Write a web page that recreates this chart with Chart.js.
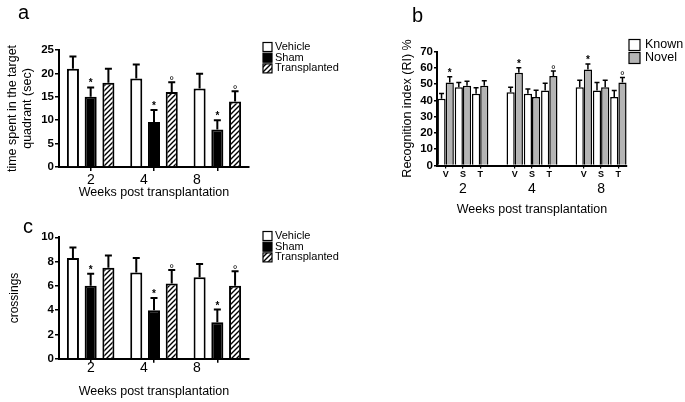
<!DOCTYPE html>
<html><head><meta charset="utf-8">
<script src="https://cdn.jsdelivr.net/npm/chart.js@4/dist/chart.umd.min.js"></script>
<style>
html,body{margin:0;padding:0;background:#fff;}
body{width:685px;height:402px;position:relative;overflow:hidden;font-family:"Liberation Sans",Arial,sans-serif;}
canvas{position:absolute;}
.lbl{position:absolute;font-size:20px;line-height:20px;color:#000;}
</style></head><body>
<canvas id="ca" width="345" height="205" style="left:0;top:0"></canvas>
<canvas id="cc" width="345" height="197" style="left:0;top:205px"></canvas>
<canvas id="cb" width="345" height="220" style="left:340px;top:0"></canvas>
<div class="lbl" style="left:18px;top:2px">a</div>
<div class="lbl" style="left:412px;top:5px">b</div>
<div class="lbl" style="left:23px;top:216px">c</div>
<script>
// ---------- data ----------
const weeks = ['2', '4', '8'];
const groupNames = ['Vehicle', 'Sham', 'Transplanted'];

// panel a: time spent in target quadrant (sec)
const timeVehicle = [21.0, 18.9, 16.8];
const timeVehicleErr = [2.6, 3.0, 3.1];
const timeSham = [15.0, 9.6, 8.0];
const timeShamErr = [2.0, 2.6, 2.0];
const timeTrans = [18.0, 16.0, 14.0];
const timeTransErr = [3.0, 2.1, 2.2];

// panel c: crossings
const crossVehicle = [8.3, 7.1, 6.7];
const crossVehicleErr = [0.85, 1.2, 1.1];
const crossSham = [6.0, 4.0, 3.0];
const crossShamErr = [1.0, 1.0, 1.05];
const crossTrans = [7.5, 6.2, 6.0];
const crossTransErr = [1.0, 1.1, 1.2];

// significance marks (a and c)
const markSham = ['*', '*', '*'];
const markTrans = ['', '°', '°'];

// panel b: recognition index (RI) %
const groupsB = ['V', 'S', 'T', '', 'V', 'S', 'T', '', 'V', 'S', 'T'];
const weekLabelsB = ['', '2', '', '', '', '4', '', '', '', '8', ''];
const riKnown = [41, 48, 44, null, 45, 44, 46, null, 48, 46, 42];
const riKnownErr = [3.2, 3.0, 3.8, null, 3.0, 3.0, 4.5, null, 4.3, 5.0, 4.0];
const riNovel = [51, 49, 49, null, 57, 42, 55, null, 59, 48, 51];
const riNovelErr = [3.5, 2.7, 3.0, null, 3.0, 4.2, 3.0, null, 3.3, 4.3, 3.1];
const markNovel = ['*', '', '', '', '*', '', '°', '', '*', '', '°'];

// ---------- helpers ----------
Chart.defaults.font.family = '"Liberation Sans", Arial, sans-serif';
Chart.defaults.color = '#000';

function hatch() {
  const s = 5;
  const c = document.createElement('canvas'); c.width = s; c.height = s;
  const x = c.getContext('2d');
  x.fillStyle = '#fff'; x.fillRect(0, 0, s, s);
  x.strokeStyle = '#000'; x.lineWidth = 1.4;
  x.beginPath();
  x.moveTo(0, s); x.lineTo(s, 0);
  x.moveTo(-1, 1); x.lineTo(1, -1);
  x.moveTo(s - 1, s + 1); x.lineTo(s + 1, s - 1);
  x.stroke();
  return x.createPattern(c, 'repeat');
}
const HATCH = hatch();

const errorBars = {
  id: 'errorBars',
  afterDatasetsDraw(chart, args, opts) {
    const ctx = chart.ctx, y = chart.scales.y;
    chart.data.datasets.forEach((ds, di) => {
      if (!ds.errors) return;
      const meta = chart.getDatasetMeta(di);
      meta.data.forEach((el, i) => {
        const v = ds.data[i], e = ds.errors[i];
        if (v == null || e == null) return;
        const top = y.getPixelForValue(v + e);
        const cap = opts.cap;
        ctx.save();
        ctx.strokeStyle = '#000'; ctx.lineWidth = opts.width;
        ctx.beginPath();
        ctx.moveTo(el.x, el.y); ctx.lineTo(el.x, top);
        ctx.moveTo(el.x - cap / 2, top); ctx.lineTo(el.x + cap / 2, top);
        ctx.stroke();
        const m = ds.marks && ds.marks[i];
        if (m) {
          ctx.fillStyle = '#000'; ctx.textAlign = 'center'; ctx.textBaseline = 'alphabetic';
          if (m === '*') { ctx.font = 'bold 10px "Liberation Sans", Arial'; ctx.fillText(m, el.x, top - 1); }
          else { ctx.font = '12px "Liberation Sans", Arial'; ctx.fillText(m, el.x, top + 3); }
        }
        ctx.restore();
      });
    });
  }
};

const sideLegend = {
  id: 'sideLegend',
  afterDraw(chart, args, o) {
    const ctx = chart.ctx;
    chart.data.datasets.forEach((ds, i) => {
      const yy = o.y + i * o.step;
      ctx.save();
      ctx.fillStyle = ds.backgroundColor;
      ctx.fillRect(o.x, yy - o.box / 2, o.box, o.box);
      ctx.strokeStyle = '#000'; ctx.lineWidth = 1.2;
      ctx.strokeRect(o.x, yy - o.box / 2, o.box, o.box);
      ctx.fillStyle = '#000'; ctx.font = o.font;
      ctx.textBaseline = 'middle'; ctx.textAlign = 'left';
      ctx.fillText(ds.label, o.x + o.box + o.gap, yy);
      ctx.restore();
    });
  }
};

// week-label axis: linear index axis (label i sits at value i)
const LABEL_MIN = -0.6, LABEL_MAX = 2.98;

function groupChart(id, vals, errs, yMax, yStep, yTitle, yTitleSize, yTitlePad, pad, xlHeight, xlPad, titlePadB, legendY) {
  const mk = (label, data, err, bg, marks) => ({
    label, data, errors: err, marks, backgroundColor: bg, borderColor: '#000', borderWidth: 2,
    xAxisID: 'x', yAxisID: 'y', categoryPercentage: 0.84, barPercentage: 0.68
  });
  return new Chart(document.getElementById(id), {
    type: 'bar',
    data: {
      labels: weeks,
      datasets: [
        mk(groupNames[0], vals[0], errs[0], '#fff', null),
        mk(groupNames[1], vals[1], errs[1], '#000', markSham),
        mk(groupNames[2], vals[2], errs[2], HATCH, markTrans)
      ]
    },
    options: {
      responsive: false, animation: false,
      layout: { padding: pad },
      plugins: {
        legend: { display: false }, tooltip: { enabled: false },
        errorBars: { cap: 7, width: 2 },
        sideLegend: { x: 263, y: legendY, step: 10.7, box: 9, gap: 3, font: '11px "Liberation Sans", Arial' }
      },
      scales: {
        x: {
          type: 'category', offset: true, weight: 0,
          grid: { display: true, drawOnChartArea: false, drawTicks: true, tickLength: 4, offset: false, color: '#000', lineWidth: 1.5 },
          border: { display: true, color: '#000', width: 2 },
          ticks: { display: false },
          afterFit(s) { s.height = 0; }
        },
        xl: {
          type: 'linear', position: 'bottom', weight: 1, min: LABEL_MIN, max: LABEL_MAX, bounds: 'data', offset: false,
          grid: { display: false, drawTicks: false, offset: false }, border: { display: false },
          afterBuildTicks(s) { s.ticks = weeks.map((w, i) => ({ value: i })); s.min = LABEL_MIN; s.max = LABEL_MAX; },
          ticks: { callback: (v) => weeks[v], font: { size: 14 }, color: '#000', padding: xlPad, maxRotation: 0, autoSkip: false },
          title: { display: true, text: 'Weeks post transplantation', font: { size: 12.5 }, color: '#000', padding: { top: 0, bottom: titlePadB } },
          afterFit(s) { s.height = xlHeight; }
        },
        y: {
          min: 0, max: yMax,
          ticks: { stepSize: yStep, font: { size: 11.5, weight: 'bold' }, color: '#000', padding: 1, autoSkip: false },
          grid: { drawOnChartArea: false, tickLength: 4, color: '#000', lineWidth: 1.5 },
          border: { color: '#000', width: 2 },
          title: { display: true, text: yTitle, font: { size: yTitleSize }, color: '#000', padding: { top: yTitlePad, bottom: 0 } },
          afterFit(s) { s.width = 59; }
        }
      }
    },
    plugins: [errorBars, sideLegend]
  });
}

groupChart('ca', [timeVehicle, timeSham, timeTrans], [timeVehicleErr, timeShamErr, timeTransErr],
  25, 5, ['time spent in the target', 'quadrant (sec)'], 12.5, 5.5,
  { left: 0, top: 50, right: 96, bottom: 0 }, 38, 4.6, 4.5, 47);

groupChart('cc', [crossVehicle, crossSham, crossTrans], [crossVehicleErr, crossShamErr, crossTransErr],
  10, 2, 'crossings', 12, 7.8,
  { left: 0, top: 32.3, right: 96, bottom: 0 }, 43.3, 1.4, 2.5, 31);

// panel b
new Chart(document.getElementById('cb'), {
  type: 'bar',
  data: {
    labels: groupsB,
    datasets: [
      { label: 'Known', data: riKnown, errors: riKnownErr, backgroundColor: '#fff', borderColor: '#000', borderWidth: 1.5,
        xAxisID: 'x', yAxisID: 'y', categoryPercentage: 0.95, barPercentage: 1.0 },
      { label: 'Novel', data: riNovel, errors: riNovelErr, marks: markNovel, backgroundColor: '#b4b4b4', borderColor: '#000', borderWidth: 1.5,
        xAxisID: 'x', yAxisID: 'y', categoryPercentage: 0.95, barPercentage: 1.0 }
    ]
  },
  options: {
    responsive: false, animation: false,
    layout: { padding: { left: 0, top: 51.5, right: 58, bottom: 0 } },
    plugins: {
      legend: { display: false }, tooltip: { enabled: false },
      errorBars: { cap: 5, width: 1.5 },
      sideLegend: { x: 289, y: 45, step: 13, box: 11, gap: 5, font: '12.5px "Liberation Sans", Arial' }
    },
    scales: {
      x: {
        type: 'category', offset: true, weight: 0,
        grid: { display: true, drawOnChartArea: false, offset: false, tickLength: 3, lineWidth: 1.2,
          tickColor: (c) => groupsB[c.index] ? '#000' : 'rgba(0,0,0,0)' },
        border: { color: '#000', width: 2 },
        ticks: { font: { size: 9, weight: 'bold' }, color: '#000', padding: 0.5, autoSkip: false, maxRotation: 0 },
        afterFit(s) { s.height = 14; }
      },
      xw: {
        type: 'category', labels: weekLabelsB, offset: true, position: 'bottom', weight: 1,
        grid: { display: false, drawTicks: false }, border: { display: false },
        ticks: { font: { size: 14 }, color: '#000', padding: 1.1, autoSkip: false, maxRotation: 0 },
        title: { display: true, text: 'Weeks post transplantation', font: { size: 12.5 }, color: '#000', padding: { top: 0, bottom: 2.5 } },
        afterFit(s) { s.height = 40.5; }
      },
      y: {
        min: 0, max: 70,
        ticks: { stepSize: 10, font: { size: 11.5, weight: 'bold' }, color: '#000', padding: 1, autoSkip: false },
        grid: { drawOnChartArea: false, tickLength: 3, color: '#000', lineWidth: 1.5 },
        border: { color: '#000', width: 2 },
        title: { display: true, text: 'Recognition index (RI) %', font: { size: 12.5 }, color: '#000', padding: { top: 60.5, bottom: 0 } },
        afterFit(s) { s.width = 97; }
      }
    }
  },
  plugins: [errorBars, sideLegend]
});
</script>
</body></html>
